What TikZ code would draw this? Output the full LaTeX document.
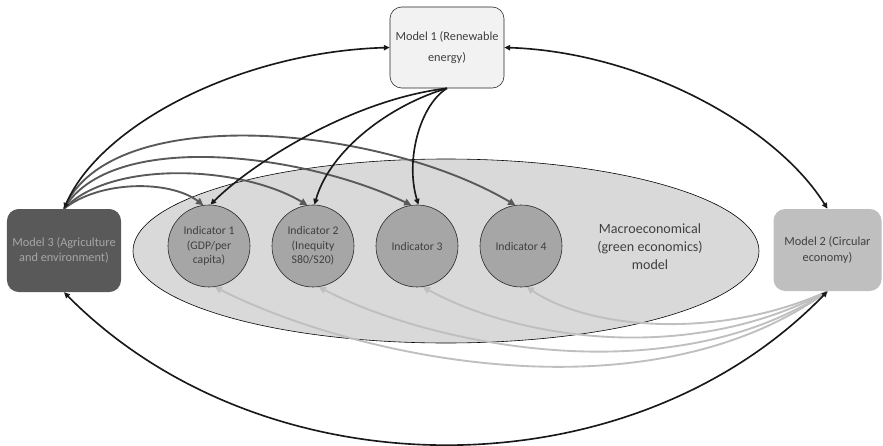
\documentclass[tikz,border=0pt]{standalone}
\usepackage{fontspec}
\setmainfont{Carlito}
\usetikzlibrary{arrows.meta,shapes.geometric}
\definecolor{monefill}{HTML}{F2F2F2}
\definecolor{mtwofill}{HTML}{BFBFBF}
\definecolor{mthreefill}{HTML}{595959}
\definecolor{mthreetext}{HTML}{A6A6A6}
\definecolor{indfill}{HTML}{A6A6A6}
\definecolor{ellfill}{HTML}{D9D9D9}
\definecolor{txt}{HTML}{404040}
\definecolor{darkarr}{HTML}{595959}
\definecolor{lightarr}{HTML}{BFBFBF}
\tikzset{
  modelbox/.style={rectangle, rounded corners=10pt, align=center, inner sep=0pt,
    font=\fontsize{10.5}{13}\selectfont},
  indic/.style={circle, draw=black!85, line width=0.5pt, fill=indfill, minimum size=2.46cm,
    inner sep=0pt, align=center, text=txt, font=\fontsize{10}{12.3}\selectfont},
  blackarr/.style={line width=1.4pt, draw=black!90, -{Triangle[length=5pt,width=4.5pt]}},
  blackboth/.style={line width=1.4pt, draw=black!90, {Triangle[length=5pt,width=4.5pt]}-{Triangle[length=5pt,width=4.5pt]}},
  darkline/.style={line width=1.6pt, draw=darkarr, -{Triangle[length=6pt,width=6pt]}},
  lightline/.style={line width=1.6pt, draw=lightarr, -{Triangle[length=6pt,width=6pt]}}
}
\begin{document}
\begin{tikzpicture}[x=0.03cm,y=-0.03cm]
\useasboundingbox (0,0) rectangle (883,446);
% macro ellipse
\node[ellipse, draw=black, line width=0.5pt, fill=ellfill, minimum width=18.78cm,
  minimum height=5.52cm, inner sep=0pt] (macro) at (446,251) {};
\node[align=center, text=txt, font=\fontsize{12}{15.5}\selectfont] (macrolabel) at (650,247)
  {Macroeconomical\\(green economics)\\model};
% model boxes
\node[modelbox, draw=black!85, line width=0.5pt, fill=monefill, text=txt,
  minimum width=3.42cm, minimum height=2.43cm] (m1) at (447,47.5)
  {Model 1 (Renewable\\[5pt]energy)};
\node[modelbox, fill=mthreefill, text=mthreetext,
  minimum width=3.42cm, minimum height=2.49cm] (m3) at (64,250.5)
  {Model 3 (Agriculture\\and environment)};
\node[modelbox, fill=mtwofill, text=txt,
  minimum width=3.24cm, minimum height=2.46cm] (m2) at (827.5,250)
  {Model 2 (Circular\\economy)};
% indicators
\node[indic] (i1) at (209,246) {Indicator 1\\(GDP/per\\capita)};
\node[indic] (i2) at (313,246) {Indicator 2\\(Inequity\\S80/S20)};
\node[indic] (i3) at (417,246) {Indicator 3};
\node[indic] (i4) at (521,246) {Indicator 4};
% light gray: model 2 -> indicators
\draw[lightline] (m2.south) .. controls (650,420) and (360,360) .. (i1.-82);
\draw[lightline] (m2.south) .. controls (670,395) and (430,345) .. (i2.-82);
\draw[lightline] (m2.south) .. controls (690,365) and (520,340) .. (i3.-82);
\draw[lightline] (m2.south) .. controls (720,340) and (590,330) .. (i4.-82);
% dark gray: model 3 -> indicators
\draw[darkline] (m3.north) .. controls (100,180) and (170,180) .. (i1.98);
\draw[darkline] (m3.north) .. controls (110,160) and (240,165) .. (i2.98);
\draw[darkline] (m3.north) .. controls (110,130) and (300,152) .. (i3.98);
\draw[darkline] (m3.north) .. controls (110,100) and (380,125) .. (i4.98);
% black: model 1 -> indicators
\draw[blackarr] (m1.south) .. controls (350,100) and (250,165) .. (i1.88);
\draw[blackarr] (m1.south) .. controls (390,105) and (330,150) .. (i2.88);
\draw[blackarr] (m1.south) .. controls (420,105) and (405,160) .. (i3.88);
% black: model to model
\draw[blackboth] (m1.west) .. controls (240,52) and (100,125) .. (m3.north);
\draw[blackboth] (m1.east) .. controls (640,52) and (775,125) .. (m2.north);
\draw[blackboth] (m3.south) .. controls (265,495) and (630,495) .. (m2.south);
\end{tikzpicture}
\end{document}
